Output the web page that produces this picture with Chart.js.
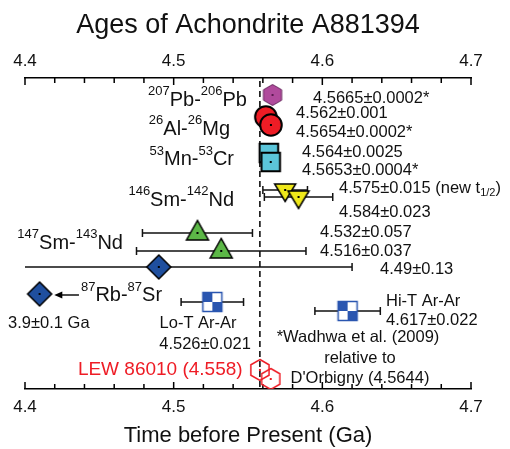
<!DOCTYPE html>
<html><head><meta charset="utf-8">
<script src="https://cdn.jsdelivr.net/npm/chart.js@4.4.1/dist/chart.umd.min.js"></script>
<style>html,body{margin:0;padding:0;background:#fff;}</style>
</head><body>
<canvas id="c" width="510" height="449"></canvas>
<script>
// ---------- data (ages in Ga; rows = vertical slot of each measurement) ----------
const xMin = 4.4, xMax = 4.7;
const tickLabels = ['4.4', '4.5', '4.6', '4.7'];
const refAge = 4.558;                       // LEW 86010 reference age (dashed line)

const pbAge = [4.5665];            const pbRow = [1.7];
const alAge = [4.562, 4.5654];     const alRow = [3.9, 4.7];
const mnAge = [4.564, 4.5653];     const mnRow = [7.5, 8.4];
const sm146Age = [4.575, 4.584];   const sm146Err = [0.015, 0.023]; const sm146Row = [11.2, 11.9];
const sm147Age = [4.516, 4.532];   const sm147Err = [0.037, 0.057]; const sm147Row = [15.5, 17.3];
const rbAge = [4.49];              const rbErr = [0.13];            const rbRow = [18.9];
const rbOffAge = [4.4098];         const rbOffRow = [21.6];         // 3.9 Ga, off scale
const loTAge = [4.526];            const loTErr = [0.021];          const loTRow = [22.4];
const hiTAge = [4.617];            const hiTErr = [0.022];          const hiTRow = [23.3];
const lewAge = [4.558, 4.5653];    const lewRow = [29.2, 30.1];

const FONT = "'Liberation Sans', Arial, sans-serif";

// ---------- marker images ----------
function marker(shape, fill, stroke, lw, dotColor) {
  const S = 30, m = S / 2;
  const c = document.createElement('canvas'); c.width = S; c.height = S;
  const g = c.getContext('2d');
  g.lineWidth = lw; g.strokeStyle = stroke; g.lineJoin = 'miter';
  if (shape === 'checker') {
    const h = 9.5, col = stroke;
    g.fillStyle = '#fff'; g.fillRect(m - h, m - h, 2 * h, 2 * h);
    g.fillStyle = col; g.fillRect(m - h, m - h, h, h); g.fillRect(m, m, h, h);
    g.strokeRect(m - h, m - h, 2 * h, 2 * h);
    return c;
  }
  g.beginPath();
  if (shape === 'hex') {
    const R = 10.5;
    for (let i = 0; i < 6; i++) {
      const a = -Math.PI / 2 + i * Math.PI / 3;
      const px = m + R * Math.cos(a), py = m + R * Math.sin(a);
      i ? g.lineTo(px, py) : g.moveTo(px, py);
    }
    g.closePath();
  } else if (shape === 'circle') {
    g.arc(m, m, 10.8, 0, 2 * Math.PI);
  } else if (shape === 'square') {
    g.rect(m - 9.3, m - 9.3, 18.6, 18.6);
  } else if (shape === 'triDown') {
    g.moveTo(m - 10.5, m - 6); g.lineTo(m + 10.5, m - 6); g.lineTo(m, m + 11.5); g.closePath();
  } else if (shape === 'triUp') {
    g.moveTo(m - 11, m + 7); g.lineTo(m + 11, m + 7); g.lineTo(m, m - 12.5); g.closePath();
  } else if (shape === 'diamond') {
    g.moveTo(m, m - 12); g.lineTo(m + 12, m); g.lineTo(m, m + 12); g.lineTo(m - 12, m); g.closePath();
  }
  if (fill) { g.fillStyle = fill; g.fill(); }
  g.stroke();
  if (dotColor) { g.fillStyle = dotColor; g.fillRect(m - 1, m - 1, 2, 2); }
  return c;
}

const mk = {
  pb: marker('hex', '#b04a9c', '#6a2a60', 1, '#5a1a50'),
  al: marker('circle', '#ee1c25', '#000', 2, '#000'),
  mn: marker('square', '#5bc5da', '#000', 2, '#000'),
  sm146: marker('triDown', '#efe81a', '#000', 1.5, '#000'),
  sm147: marker('triUp', '#5cb847', '#000', 1.5, '#000'),
  rb: marker('diamond', '#1f4f9e', '#000', 1.5, '#000'),
  ar: marker('checker', null, '#2a56b0', 1.5, null),
  lew: marker('hex', null, '#ee1c25', 1.5, '#ee1c25')
};

function pts(xs, ys) { return xs.map((x, i) => ({ x: x, y: ys[i] })); }
function ds(label, xs, ys, style) {
  return { label: label, data: pts(xs, ys), pointStyle: style, pointRadius: 10, showLine: false };
}

// ---------- annotation plugin ----------
function drawRich(ctx, segs, x, y, align, size, color) {
  const supSize = Math.round(size * 0.66);
  const fonts = segs.map(s => (s[1] ? supSize : size) + 'px ' + FONT);
  let w = 0;
  const widths = segs.map((s, i) => { ctx.font = fonts[i]; const ww = ctx.measureText(s[0]).width; w += ww; return ww; });
  let cx = align === 'right' ? x - w : (align === 'center' ? x - w / 2 : x);
  ctx.fillStyle = color; ctx.textAlign = 'left'; ctx.textBaseline = 'middle';
  segs.forEach((s, i) => {
    ctx.font = fonts[i];
    const dy = s[1] === 'sup' ? -size * 0.42 : (s[1] === 'sub' ? size * 0.3 : 0);
    ctx.fillText(s[0], cx, y + dy);
    cx += widths[i];
  });
}

const annot = {
  id: 'annot',
  beforeDatasetsDraw(chart) {
    const ctx = chart.ctx, xs = chart.scales.x, ys = chart.scales.y, a = chart.chartArea;
    ctx.save();
    // reference dashed line
    const rx = xs.getPixelForValue(refAge);
    ctx.strokeStyle = '#000'; ctx.lineWidth = 1.5; ctx.setLineDash([6, 4]);
    ctx.beginPath(); ctx.moveTo(rx, a.top + 3); ctx.lineTo(rx, a.bottom); ctx.stroke();
    ctx.setLineDash([]);
    // error bars
    const bars = [[sm146Age, sm146Err, sm146Row], [sm147Age, sm147Err, sm147Row],
                  [rbAge, rbErr, rbRow], [loTAge, loTErr, loTRow], [hiTAge, hiTErr, hiTRow]];
    ctx.lineWidth = 1.5; ctx.strokeStyle = '#111';
    bars.forEach(([ages, errs, rows]) => {
      ages.forEach((age, i) => {
        const y = ys.getPixelForValue(rows[i]);
        let x1 = xs.getPixelForValue(age - errs[i]), x2 = xs.getPixelForValue(age + errs[i]);
        const c1 = x1 >= a.left, c2 = x2 <= a.right;
        x1 = Math.max(x1, a.left); x2 = Math.min(x2, a.right);
        ctx.beginPath(); ctx.moveTo(x1, y); ctx.lineTo(x2, y);
        if (c1) { ctx.moveTo(x1, y - 4); ctx.lineTo(x1, y + 4); }
        if (c2) { ctx.moveTo(x2, y - 4); ctx.lineTo(x2, y + 4); }
        ctx.stroke();
      });
    });
    // arrow pointing to off-scale Rb-Sr age
    const ay = ys.getPixelForValue(21.7);
    const ax1 = xs.getPixelForValue(4.4363), ax2 = xs.getPixelForValue(4.4197);
    ctx.beginPath(); ctx.moveTo(ax1, ay); ctx.lineTo(ax2 + 5, ay); ctx.stroke();
    ctx.fillStyle = '#000';
    ctx.beginPath(); ctx.moveTo(ax2, ay); ctx.lineTo(ax2 + 8, ay - 3.5); ctx.lineTo(ax2 + 8, ay + 3.5); ctx.closePath(); ctx.fill();
    // inward tick marks on both axes
    ctx.lineWidth = 1.5; ctx.strokeStyle = '#000';
    xs.ticks.forEach(t => {
      const px = xs.getPixelForValue(t.value);
      const major = Math.abs(t.value * 10 - Math.round(t.value * 10)) < 1e-6;
      const len = major ? 7 : 5;
      ctx.beginPath();
      ctx.moveTo(px, a.top); ctx.lineTo(px, a.top + len);
      ctx.moveTo(px, a.bottom); ctx.lineTo(px, a.bottom - len);
      ctx.stroke();
    });
    ctx.restore();
  },
  afterDraw(chart) {
    const ctx = chart.ctx, xs = chart.scales.x, ys = chart.scales.y;
    const X = v => xs.getPixelForValue(v), Y = v => ys.getPixelForValue(v);
    ctx.save();
    const iso = 20;
    drawRich(ctx, [['207', 'sup'], ['Pb-'], ['206', 'sup'], ['Pb']], X(4.5493), Y(2.2), 'right', iso, '#111');
    drawRich(ctx, [['26', 'sup'], ['Al-'], ['26', 'sup'], ['Mg']], X(4.5379), Y(5.1), 'right', iso, '#111');
    drawRich(ctx, [['53', 'sup'], ['Mn-'], ['53', 'sup'], ['Cr']], X(4.5406), Y(8.15), 'right', iso, '#111');
    drawRich(ctx, [['146', 'sup'], ['Sm-'], ['142', 'sup'], ['Nd']], X(4.5406), Y(12.2), 'right', iso, '#111');
    drawRich(ctx, [['147', 'sup'], ['Sm-'], ['143', 'sup'], ['Nd']], X(4.4659), Y(16.5), 'right', iso, '#111');
    drawRich(ctx, [['87', 'sup'], ['Rb-'], ['87', 'sup'], ['Sr']], X(4.4922), Y(21.75), 'right', iso, '#111');

    const v = 16.5;
    const T = (txt, x, y, align, size, color) => drawRich(ctx, [[txt]], X(x), Y(y), align, size || v, color || '#111');
    T('4.5665±0.0002*', 4.5937, 2.0, 'left');
    T('4.562±0.001', 4.5823, 3.5, 'left');
    T('4.5654±0.0002*', 4.5823, 5.4, 'left');
    T('4.564±0.0025', 4.5863, 7.4, 'left');
    T('4.5653±0.0004*', 4.5863, 9.2, 'left');
    drawRich(ctx, [['4.575±0.015 (new t'], ['1/2', 'sub'], [')']], X(4.6112), Y(11.05), 'left', v, '#111');
    T('4.584±0.023', 4.6112, 13.4, 'left');
    T('4.532±0.057', 4.5984, 15.4, 'left');
    T('4.516±0.037', 4.5984, 17.3, 'left');
    T('4.49±0.13', 4.6388, 19.1, 'left');
    T('3.9±0.1 Ga', 4.3886, 24.5, 'left');
    T('Lo-T Ar-Ar', 4.5164, 24.5, 'center');
    T('4.526±0.021', 4.5211, 26.65, 'center');
    T('Hi-T Ar-Ar', 4.6428, 22.35, 'left');
    T('4.617±0.022', 4.6428, 24.2, 'left');
    T('*Wadhwa et al. (2009)', 4.624, 25.95, 'center');
    T('relative to', 4.6253, 28.0, 'center');
    T("D'Orbigny (4.5644)", 4.6253, 30.0, 'center');
    T('LEW 86010 (4.558)', 4.5464, 29.15, 'right', 19, '#ee1c25');
    ctx.restore();
  }
};

// ---------- chart ----------
const tickCb = function (value) {
  const k = Math.round(value * 10);
  if (Math.abs(value * 10 - k) < 1e-6) {
    const lbl = (k / 10).toFixed(1);
    return tickLabels.includes(lbl) ? lbl : '';
  }
  return '';
};
const axisCommon = {
  type: 'linear', min: xMin, max: xMax,
  grid: { display: false, drawTicks: false },
  border: { display: true, color: '#000', width: 1.5 },
  ticks: { stepSize: 0.02, autoSkip: false, maxRotation: 0, callback: tickCb,
           color: '#111', font: { family: FONT, size: 17 } }
};

new Chart(document.getElementById('c'), {
  type: 'scatter',
  data: {
    datasets: [
      ds('Pb-Pb', pbAge, pbRow, mk.pb),
      ds('Al-Mg', alAge, alRow, mk.al),
      ds('Mn-Cr', mnAge, mnRow, mk.mn),
      ds('146Sm-142Nd', sm146Age, sm146Row, mk.sm146),
      ds('147Sm-143Nd', sm147Age, sm147Row, mk.sm147),
      ds('Rb-Sr', rbAge, rbRow, mk.rb),
      ds('Rb-Sr (3.9 Ga)', rbOffAge, rbOffRow, mk.rb),
      ds('Lo-T Ar-Ar', loTAge, loTRow, mk.ar),
      ds('Hi-T Ar-Ar', hiTAge, hiTRow, mk.ar),
      ds('LEW 86010', lewAge, lewRow, mk.lew)
    ]
  },
  options: {
    responsive: false, animation: false, devicePixelRatio: 1,
    layout: { padding: { left: 25, right: 39, top: 0, bottom: 0 } },
    plugins: { legend: { display: false }, tooltip: { enabled: false }, title: { display: false } },
    scales: {
      x: Object.assign({}, axisCommon, {
        position: 'bottom',
        ticks: Object.assign({}, axisCommon.ticks, { padding: 8 }),
        title: { display: true, text: 'Time before Present (Ga)', color: '#111',
                 font: { family: FONT, size: 22 }, padding: { top: 4, bottom: 0 } },
        afterFit: s => { s.height = 60; }
      }),
      x2: Object.assign({}, axisCommon, {
        position: 'top',
        ticks: Object.assign({}, axisCommon.ticks, { padding: 6 }),
        title: { display: true, text: 'Ages of Achondrite A881394', color: '#111',
                 font: { family: FONT, size: 27 }, padding: { top: 9, bottom: 0 } },
        afterFit: s => { s.height = 78; }
      }),
      y: { display: false, min: 0, max: 31.1, reverse: true }
    }
  },
  plugins: [annot]
});
</script>
</body></html>
